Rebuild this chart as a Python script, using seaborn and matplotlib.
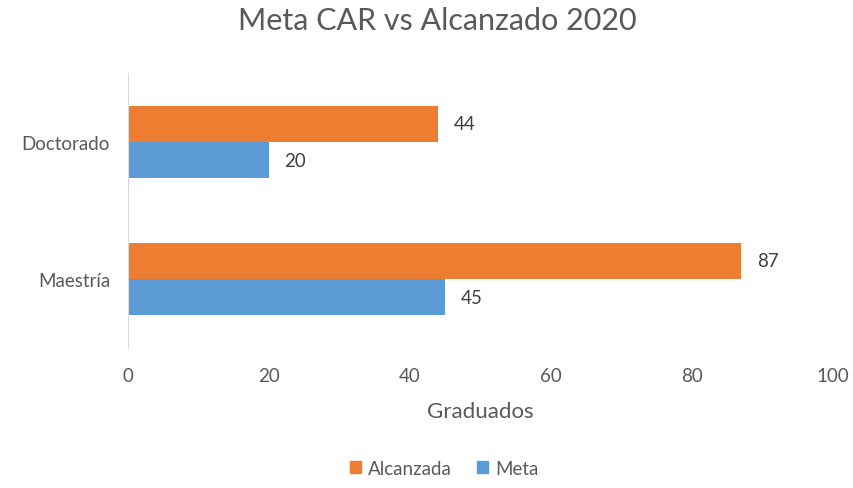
import pandas as pd
import seaborn as sns
import matplotlib.pyplot as plt

# datos del gráfico
categorias = ['Doctorado', 'Maestría']
alcanzada = [44, 87]
meta = [20, 45]
series = ['Alcanzada', 'Meta']
colores = {'Alcanzada': '#ED7D31', 'Meta': '#5B9BD5'}

df = pd.DataFrame({
    'Categoria': categorias * 2,
    'Graduados': alcanzada + meta,
    'Serie': ['Alcanzada'] * len(categorias) + ['Meta'] * len(categorias),
})

sns.set_style('white')
plt.rcParams['font.family'] = ['Lato', 'DejaVu Sans']
gris = '#595959'

fig = plt.figure(figsize=(8.54, 4.89), dpi=100)
ax = fig.add_axes([0.150, 0.287, 0.8255, 0.561])

sns.barplot(data=df, y='Categoria', x='Graduados', hue='Serie', order=categorias,
            hue_order=series, palette=colores, orient='h', width=0.53, gap=0,
            saturation=1, linewidth=0, ax=ax, legend=False)

for cont in ax.containers:
    ax.bar_label(cont, padding=11, fontsize=13.5, color='#404040')

ax.set_xlim(0, 100)
ax.set_ylim(1.5, -0.5)
ax.set_xticks([0, 20, 40, 60, 80, 100])
ax.tick_params(axis='both', length=0, labelsize=13.5, labelcolor=gris)
ax.tick_params(axis='x', pad=14)
ax.tick_params(axis='y', pad=13)
ax.set_xlabel('Graduados', fontsize=16, color=gris, labelpad=12)
ax.set_ylabel('')
for s in ['top', 'right', 'bottom']:
    ax.spines[s].set_visible(False)
ax.spines['left'].set_color('#D9D9D9')

fig.suptitle('Meta CAR vs Alcanzado 2020', x=0.512, y=0.985, fontsize=22, color=gris)

handles = [plt.Rectangle((0, 0), 1, 1, color=colores[s]) for s in series]
fig.legend(handles, series, loc='lower center', bbox_to_anchor=(0.52, -0.012), ncol=2,
           frameon=False, fontsize=13.5, labelcolor=gris, handlelength=0.6,
           handleheight=0.6, handletextpad=0.4, columnspacing=1.3)

plt.savefig('out.png', dpi=100)
